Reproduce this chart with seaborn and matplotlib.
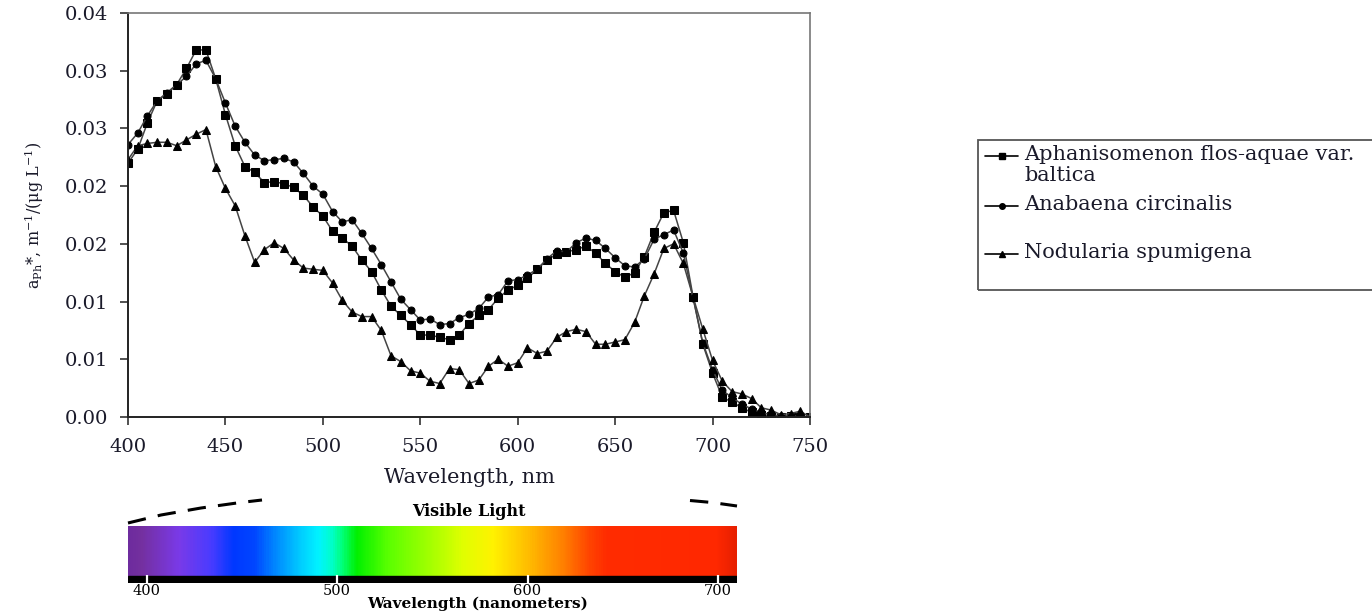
import numpy as np
import pandas as pd
import matplotlib
matplotlib.use("Agg")
import matplotlib.pyplot as plt
import seaborn as sns
from matplotlib.lines import Line2D
from matplotlib.patches import Rectangle
from matplotlib.colors import LinearSegmentedColormap

# ---------------- data ----------------
wavelength = list(range(400, 751, 5))

aphanizomenon = [
    0.0220, 0.0232, 0.0255, 0.0274, 0.0280, 0.0288, 0.0302, 0.0318, 0.0318, 0.0293,
    0.0262, 0.0235, 0.0217, 0.0212, 0.0203, 0.0204, 0.0202, 0.0199, 0.0192, 0.0182,
    0.0174, 0.0161, 0.0155, 0.0148, 0.0136, 0.0126, 0.0110, 0.0096, 0.0088, 0.0080,
    0.0071, 0.0071, 0.0069, 0.0067, 0.0071, 0.0081, 0.0088, 0.0093, 0.0103, 0.0110,
    0.0114, 0.0120, 0.0128, 0.0136, 0.0141, 0.0143, 0.0145, 0.0148, 0.0142, 0.0133,
    0.0126, 0.0121, 0.0125, 0.0139, 0.0160, 0.0177, 0.0179, 0.0151, 0.0104, 0.0063,
    0.0038, 0.0017, 0.0013, 0.0008, 0.0004, 0.0002, 0.0001, 0.0000, 0.0001, 0.0000,
    0.0000]

anabaena = [
    0.0236, 0.0246, 0.0261, 0.0274, 0.0281, 0.0288, 0.0295, 0.0306, 0.0309, 0.0293,
    0.0272, 0.0252, 0.0238, 0.0227, 0.0222, 0.0223, 0.0224, 0.0221, 0.0211, 0.0200,
    0.0193, 0.0178, 0.0169, 0.0171, 0.0159, 0.0146, 0.0132, 0.0117, 0.0102, 0.0093,
    0.0084, 0.0085, 0.0080, 0.0081, 0.0086, 0.0089, 0.0094, 0.0104, 0.0106, 0.0118,
    0.0119, 0.0123, 0.0128, 0.0137, 0.0144, 0.0143, 0.0151, 0.0155, 0.0153, 0.0146,
    0.0138, 0.0131, 0.0130, 0.0137, 0.0154, 0.0158, 0.0162, 0.0142, 0.0103, 0.0064,
    0.0041, 0.0023, 0.0017, 0.0011, 0.0007, 0.0004, 0.0002, 0.0001, 0.0001, 0.0001,
    0.0000]

nodularia = [
    0.0223, 0.0235, 0.0237, 0.0238, 0.0238, 0.0235, 0.0240, 0.0245, 0.0249, 0.0217,
    0.0198, 0.0183, 0.0157, 0.0134, 0.0145, 0.0151, 0.0146, 0.0136, 0.0129, 0.0128,
    0.0127, 0.0116, 0.0101, 0.0091, 0.0087, 0.0087, 0.0075, 0.0053, 0.0048, 0.0040,
    0.0038, 0.0031, 0.0029, 0.0042, 0.0041, 0.0029, 0.0032, 0.0044, 0.0050, 0.0044,
    0.0047, 0.0060, 0.0055, 0.0057, 0.0069, 0.0074, 0.0076, 0.0074, 0.0063, 0.0063,
    0.0065, 0.0067, 0.0082, 0.0105, 0.0124, 0.0146, 0.0150, 0.0133, 0.0104, 0.0076,
    0.0049, 0.0031, 0.0022, 0.0020, 0.0016, 0.0008, 0.0006, 0.0002, 0.0003, 0.0005,
    0.0000]

species = ["Aphanisomenon flos-aquae var.\nbaltica", "Anabaena circinalis", "Nodularia spumigena"]
markers = ["s", "o", "^"]

y_ticks = [0.0, 0.005, 0.010, 0.015, 0.020, 0.025, 0.030, 0.035]
y_ticklabels = ["0.00", "0.01", "0.01", "0.02", "0.02", "0.03", "0.03", "0.04"]
x_ticks = [400, 450, 500, 550, 600, 650, 700, 750]

spec_ticks = [400, 500, 600, 700]
spec_wl = [390, 396, 416, 433, 445, 456, 467, 481, 490, 497, 503, 510, 526, 550, 566, 582, 600, 619, 633, 642, 700, 710]
spec_col = ["#6e2c9e", "#74309f", "#7a3ae8", "#4a3cff", "#0038ff", "#0046ff", "#0088ff", "#00d0ff",
            "#00f4ff", "#00ffc8", "#00ff70", "#00f000", "#58ff00", "#a8ff00", "#e0ff00", "#fff200",
            "#ffbe00", "#ff8000", "#ff4400", "#ff2c00", "#ff2800", "#e82000"]

# ---------------- figure ----------------
sns.set_theme(style="ticks")
plt.rcParams["font.family"] = ["DejaVu Serif"]
plt.rcParams["mathtext.fontset"] = "dejavuserif"
TXT = "#1a1a2a"

fig = plt.figure(figsize=(13.72, 6.13), dpi=100)
fig.patch.set_facecolor("white")
ax = fig.add_axes([128 / 1372, 1 - 417 / 613, 682 / 1372, 404 / 613])

df = pd.concat([
    pd.DataFrame({"wl": wavelength, "val": vals, "sp": sp})
    for vals, sp in zip([aphanizomenon, anabaena, nodularia], species)
])
sns.lineplot(data=df, x="wl", y="val", hue="sp", style="sp", markers=markers, dashes=False,
             palette=["black"] * 3, linewidth=1.1, markersize=6, legend=False, ax=ax)
sizes = {"s": 5.6, "o": 5.0, "^": 5.4}
for ln, m in zip(ax.lines, markers):
    ln.set_color("#444444")
    ln.set_markerfacecolor("black")
    ln.set_markeredgecolor("black")
    ln.set_markersize(sizes[m])

ax.set_xlim(400, 750)
ax.set_ylim(0, 0.035)
ax.set_xticks(x_ticks)
ax.set_xticklabels([str(v) for v in x_ticks])
ax.set_yticks(y_ticks)
ax.set_yticklabels(y_ticklabels)
ax.tick_params(axis="both", direction="out", length=6, width=1.2, color="#333333",
               labelsize=14, labelcolor=TXT)
ax.tick_params(axis="x", pad=9)
ax.tick_params(axis="y", pad=8)
for s in ["left", "bottom"]:
    ax.spines[s].set_color("#222222")
    ax.spines[s].set_linewidth(1.4)
for s in ["top", "right"]:
    ax.spines[s].set_color("#777777")
    ax.spines[s].set_linewidth(1.2)
ax.set_xlabel("Wavelength, nm", fontsize=15, color=TXT, labelpad=9)
ax.set_ylabel(r"a$_{\mathrm{Ph}}$*, m$^{-1}$/(μg L$^{-1}$)", fontsize=11.5, color=TXT, labelpad=14)
ax.set_facecolor("white")

# ---------------- legend (boxed, to the right) ----------------
fx = lambda px: px / 1372
fy = lambda py: 1 - py / 613
fig.patches.append(Rectangle((fx(978), fy(290)), fx(1372 - 978) + 0.01, (290 - 140) / 613,
                             transform=fig.transFigure, fill=False, edgecolor="#555555", lw=1.3))
leg_y = [156, 206, 254]
for y, m, lab in zip(leg_y, markers, species):
    fig.lines.append(Line2D([fx(985), fx(1018)], [fy(y), fy(y)], transform=fig.transFigure,
                            color="black", lw=1.2, marker=None))
    fig.lines.append(Line2D([fx(1001.5)], [fy(y)], transform=fig.transFigure, color="black",
                            marker=m, markersize=sizes[m] - 1.0, ls="none"))
    fig.text(fx(1024), fy(y - 11), lab, ha="left", va="top", fontsize=15, color=TXT,
             linespacing=1.15)

# ---------------- visible spectrum strip ----------------
axs = fig.add_axes([128 / 1372, 1 - 583 / 613, 609 / 1372, 57 / 613])
cmap = LinearSegmentedColormap.from_list(
    "spec", [((w - spec_wl[0]) / (spec_wl[-1] - spec_wl[0]), c) for w, c in zip(spec_wl, spec_col)])
grad = np.linspace(0, 1, 600)[None, :]
axs.imshow(grad, cmap=cmap, aspect="auto", extent=[390.2, 710, 7, 57], interpolation="bilinear")
axs.add_patch(Rectangle((390.2, 0), 710 - 390.2, 7, color="black"))
axs.vlines(spec_ticks, 0, 8, colors="white", lw=1.6)
axs.set_xlim(390.2, 710)
axs.set_ylim(0, 57)
axs.set_yticks([])
axs.set_xticks(spec_ticks)
axs.set_xticklabels([str(t) for t in spec_ticks])
axs.tick_params(axis="x", length=0, pad=1, labelsize=10.5, labelcolor="black")
for s in axs.spines.values():
    s.set_visible(False)
fig.text(fx(478), fy(604), "Wavelength (nanometers)", ha="center", va="center", fontsize=11,
         fontweight="bold", color="black")
fig.text(fx(469), fy(511), "Visible Light", ha="center", va="center", fontsize=11.5,
         fontweight="bold", color="black")

# dashed arc segments above the spectrum
fig.lines.append(Line2D([fx(p) for p in [128, 161, 201, 239, 262]],
                        [fy(p) for p in [523, 515, 508, 502.7, 500]],
                        transform=fig.transFigure, color="black", lw=2.2, ls=(0, (6, 4))))
fig.lines.append(Line2D([fx(p) for p in [690, 712, 737]],
                        [fy(p) for p in [500.5, 502.5, 506]],
                        transform=fig.transFigure, color="black", lw=2.2, ls=(0, (6, 4))))

fig.savefig("out.png", dpi=100, facecolor="white")
